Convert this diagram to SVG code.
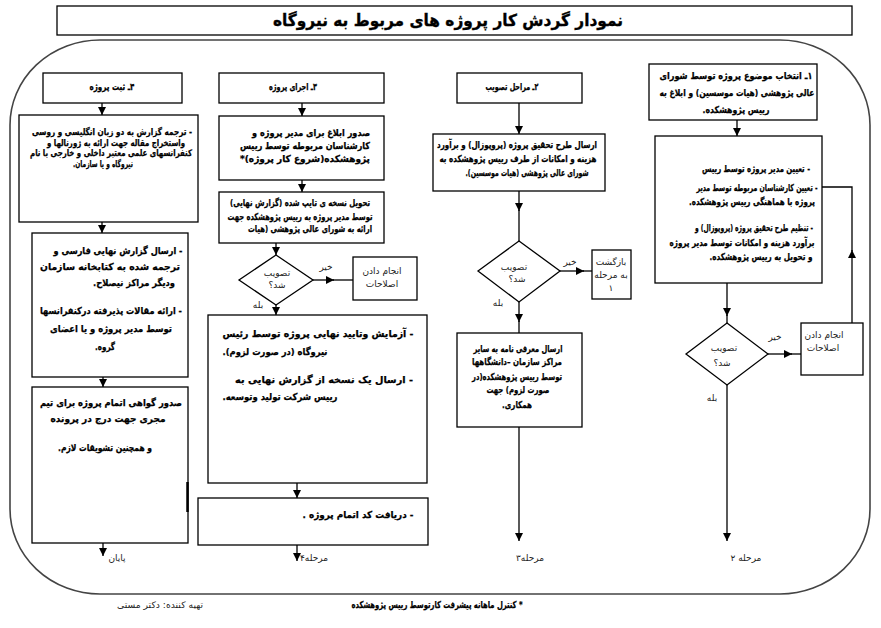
<svg xmlns="http://www.w3.org/2000/svg" width="881" height="628" viewBox="0 0 881 628">
<style>
.box{fill:#fff;stroke:#000;stroke-width:1.3}
.ln{stroke:#000;stroke-width:1.3;fill:none}
.cont{fill:none;stroke:#444;stroke-width:1.6}
text{font-family:"DejaVu Sans","Noto Sans",sans-serif;font-size:9.5px;font-weight:bold;direction:rtl;text-anchor:middle;fill:#000;stroke:#000;stroke-width:0.25}
.n{font-weight:normal;fill:#222;font-size:9px;stroke:none}
.ttl{font-size:16.5px;stroke-width:0.35}
.sm{font-size:9px}
</style>
<defs>
<marker id="ah" markerUnits="userSpaceOnUse" markerWidth="8" markerHeight="8" refX="8" refY="4" orient="auto">
<path d="M0,0 L8,4 L0,8 z" fill="#000"/>
</marker>
</defs>
<rect width="881" height="628" fill="#fff"/>
<g id="title">
<rect x="57" y="6" width="795" height="29" fill="#fff" stroke="#000" stroke-width="1.3"/>
<text class="ttl" x="448" y="26" textLength="350" lengthAdjust="spacingAndGlyphs">نمودار گردش کار پروژه های مربوط به نیروگاه</text>
</g>
<path id="container" class="cont" d="M100,40 H780 A90,85 0 0 1 870,125 V509 A90,85 0 0 1 780,594 H100 A90,85 0 0 1 10,509 V125 A90,85 0 0 1 100,40 Z"/>
<g id="connectors">
<line class="ln" x1="737" y1="120" x2="737" y2="136" marker-end="url(#ah)"/>
<line class="ln" x1="727" y1="283" x2="727" y2="316" marker-end="url(#ah)"/>
<line class="ln" x1="727" y1="315" x2="727" y2="323"/>
<line class="ln" x1="852" y1="323" x2="852" y2="250" marker-end="url(#ah)"/>
<polyline class="ln" points="852,251 852,187 822,187"/>
<line class="ln" x1="768" y1="354" x2="792" y2="354" marker-end="url(#ah)"/>
<line class="ln" x1="791" y1="354" x2="801" y2="354"/>
<line class="ln" x1="727" y1="385" x2="727" y2="541" marker-end="url(#ah)"/>
<line class="ln" x1="519" y1="103" x2="519" y2="134" marker-end="url(#ah)"/>
<line class="ln" x1="519" y1="191" x2="519" y2="211" marker-end="url(#ah)"/>
<line class="ln" x1="519" y1="210" x2="519" y2="241"/>
<line class="ln" x1="560" y1="271" x2="584" y2="271" marker-end="url(#ah)"/>
<line class="ln" x1="583" y1="271" x2="592" y2="271"/>
<line class="ln" x1="519" y1="302" x2="519" y2="322" marker-end="url(#ah)"/>
<line class="ln" x1="519" y1="321" x2="519" y2="333"/>
<line class="ln" x1="519" y1="427" x2="519" y2="541" marker-end="url(#ah)"/>
<line class="ln" x1="302" y1="103" x2="302" y2="116" marker-end="url(#ah)"/>
<line class="ln" x1="302" y1="180" x2="302" y2="192" marker-end="url(#ah)"/>
<line class="ln" x1="276" y1="243" x2="276" y2="255" marker-end="url(#ah)"/>
<line class="ln" x1="313" y1="280" x2="334" y2="280" marker-end="url(#ah)"/>
<line class="ln" x1="333" y1="280" x2="353" y2="280"/>
<line class="ln" x1="276" y1="305" x2="276" y2="315" marker-end="url(#ah)"/>
<line class="ln" x1="297" y1="483" x2="297" y2="498" marker-end="url(#ah)"/>
<line class="ln" x1="297" y1="545" x2="297" y2="561" marker-end="url(#ah)"/>
<line class="ln" x1="102" y1="103" x2="102" y2="115" marker-end="url(#ah)"/>
<line class="ln" x1="102" y1="222" x2="102" y2="233" marker-end="url(#ah)"/>
<line class="ln" x1="103" y1="377" x2="103" y2="387" marker-end="url(#ah)"/>
<line class="ln" x1="103" y1="543" x2="103" y2="556" marker-end="url(#ah)"/>
</g>
<g id="s1-head">
<rect class="box" x="649" y="64" width="168" height="56"/>
<text x="736" y="79" textLength="153" lengthAdjust="spacingAndGlyphs">۱ـ انتخاب موضوع پروژه  توسط شورای</text>
<text x="737" y="96" textLength="155" lengthAdjust="spacingAndGlyphs">عالی پژوهشی (هیات موسسین) و ابلاغ به</text>
<text x="736" y="113" textLength="67" lengthAdjust="spacingAndGlyphs">رییس پژوهشکده.</text>
</g>
<g id="s1-assign">
<rect class="box" x="655" y="136" width="167" height="147"/>
<text x="756" y="172" textLength="108" lengthAdjust="spacingAndGlyphs">- تعیین مدیر پروژه  توسط رییس</text>
<text x="757" y="191" textLength="121" lengthAdjust="spacingAndGlyphs">- تعیین کارشناسان مربوطه توسط مدیر</text>
<text x="752" y="205" textLength="126" lengthAdjust="spacingAndGlyphs">پروژه با هماهنگی رییس پژوهشکده.</text>
<text x="754" y="231" textLength="118" lengthAdjust="spacingAndGlyphs">- تنظیم طرح تحقیق پروژه (پروپوزال) و</text>
<text x="742" y="246" textLength="145" lengthAdjust="spacingAndGlyphs">برآورد هزینه و امکانات توسط مدیر پروژه</text>
<text x="761" y="260" textLength="103" lengthAdjust="spacingAndGlyphs">و تحویل به رییس پژوهشکده.</text>
</g>
<g id="s1-decision">
<polygon class="box" points="727,323 768,354 727,385 686,354"/>
<text class="n" x="724" y="351">تصویب</text>
<text class="n" x="722" y="366">شد؟</text>
<text class="n" x="775" y="340">خیر</text>
<text class="n" x="712" y="401">بله</text>
</g>
<g id="s1-fix">
<rect class="box" x="801" y="323" width="62" height="52"/>
<text class="n" x="824" y="338">انجام دادن</text>
<text class="n" x="823" y="351">اصلاحات</text>
</g>
<g id="s1-end"><text class="n" x="746" y="561">مرحله ۲</text></g>
<g id="s2-head">
<rect class="box" x="457" y="73" width="125" height="30"/>
<text x="512" y="90" textLength="53" lengthAdjust="spacingAndGlyphs">۲ـ مراحل تصویب</text>
</g>
<g id="s2-send">
<rect class="box" x="433" y="134" width="172" height="57"/>
<text x="517" y="148" textLength="160" lengthAdjust="spacingAndGlyphs">ارسال طرح تحقیق پروژه (پروپوزال) و برآورد</text>
<text x="518" y="162" textLength="157" lengthAdjust="spacingAndGlyphs">هزینه و امکانات از طرف رییس پژوهشکده به</text>
<text x="527" y="176" textLength="123" lengthAdjust="spacingAndGlyphs">شورای عالی پژوهشی (هیات موسسین).</text>
</g>
<g id="s2-decision">
<polygon class="box" points="519,241 560,271 519,302 478,271"/>
<text class="n" x="514" y="270">تصویب</text>
<text class="n" x="517" y="282">شد؟</text>
<text class="n" x="570" y="265">خیر</text>
<text class="n" x="498" y="306">بله</text>
</g>
<g id="s2-back">
<rect class="box" x="592" y="250" width="39" height="49"/>
<text class="n" x="611" y="265">بازگشت</text>
<text class="n" x="611" y="278">به مرحله</text>
<text class="n" x="611" y="291">۱</text>
</g>
<g id="s2-intro">
<rect class="box" x="457" y="333" width="125" height="94"/>
<text x="518" y="352" textLength="89" lengthAdjust="spacingAndGlyphs">ارسال معرفی نامه به سایر</text>
<text x="517" y="365" textLength="90" lengthAdjust="spacingAndGlyphs">مراکز سازمان  –دانشگاهها</text>
<text x="517" y="380" textLength="90" lengthAdjust="spacingAndGlyphs">توسط رییس پژوهشکده(در</text>
<text x="518" y="393" textLength="63" lengthAdjust="spacingAndGlyphs">صورت لزوم) جهت</text>
<text x="517" y="408" textLength="30" lengthAdjust="spacingAndGlyphs">همکاری.</text>
</g>
<g id="s2-end"><text class="n" x="530" y="561">مرحله۳</text></g>
<g id="s3-head">
<rect class="box" x="219" y="73" width="165" height="30"/>
<text x="293" y="90" textLength="48" lengthAdjust="spacingAndGlyphs">۳ـ اجرای پروژه</text>
</g>
<g id="s3-notice">
<rect class="box" x="219" y="116" width="165" height="64"/>
<text x="311" y="136" textLength="118" lengthAdjust="spacingAndGlyphs">صدور ابلاغ برای مدیر پروژه و</text>
<text x="305" y="149" textLength="130" lengthAdjust="spacingAndGlyphs">کارشناسان مربوطه توسط رییس</text>
<text x="305" y="162" textLength="130" lengthAdjust="spacingAndGlyphs">پژوهشکده(شروع کار پروژه)*</text>
</g>
<g id="s3-deliver">
<rect class="box" x="219" y="192" width="165" height="51"/>
<text x="300" y="206" textLength="140" lengthAdjust="spacingAndGlyphs">تحویل نسخه ی  تایپ شده (گزارش نهایی)</text>
<text x="300" y="220" textLength="145" lengthAdjust="spacingAndGlyphs">توسط مدیر پروژه به رییس پژوهشکده جهت</text>
<text x="310" y="232" textLength="124" lengthAdjust="spacingAndGlyphs">ارائه به شورای عالی پژوهشی (هیات</text>
</g>
<g id="s3-decision">
<polygon class="box" points="276,255 313,280 276,305 239,280"/>
<text class="n" x="277" y="276">تصویب</text>
<text class="n" x="277" y="288">شد؟</text>
<text class="n" x="326" y="270">خیر</text>
<text class="n" x="258" y="308">بله</text>
</g>
<g id="s3-fix">
<rect class="box" x="353" y="257" width="64" height="43"/>
<text class="n" x="382" y="274">انجام دادن</text>
<text class="n" x="382" y="287">اصلاحات</text>
</g>
<g id="s3-test">
<rect class="box" x="208" y="315" width="219" height="168"/>
<text x="318" y="337" textLength="191" lengthAdjust="spacingAndGlyphs">- آزمایش وتایید نهایی پروژه توسط رئیس</text>
<text x="275" y="355" textLength="105" lengthAdjust="spacingAndGlyphs">نیروگاه (در صورت لزوم).</text>
<text x="324" y="383" textLength="178" lengthAdjust="spacingAndGlyphs">- ارسال یک نسخه از گزارش نهایی به</text>
<text x="280" y="400" textLength="115" lengthAdjust="spacingAndGlyphs">رییس شرکت تولید وتوسعه.</text>
</g>
<g id="s3-code">
<rect class="box" x="198" y="498" width="230" height="47"/>
<text x="358" y="518" textLength="111" lengthAdjust="spacingAndGlyphs">- دریافت کد اتمام پروژه .</text>
</g>
<g id="s3-end"><text class="n" x="314" y="561">مرحله۴</text></g>
<g id="s4-head">
<rect class="box" x="43" y="73" width="139" height="30"/>
<text x="112" y="90" textLength="45" lengthAdjust="spacingAndGlyphs">۴ـ ثبت پروژه</text>
</g>
<g id="s4-translate">
<rect class="box" x="19" y="115" width="179" height="107"/>
<text class="sm" x="112" y="135" textLength="160" lengthAdjust="spacingAndGlyphs">- ترجمه  گزارش به دو زبان انگلیسی و روسی</text>
<text class="sm" x="116" y="145.5" textLength="138" lengthAdjust="spacingAndGlyphs">واستخراج مقاله جهت ارائه به ژورنالها و</text>
<text class="sm" x="111" y="156" textLength="162" lengthAdjust="spacingAndGlyphs">کنفرانسهای علمی معتبر داخلی و خارجی با نام</text>
<text class="sm" x="103" y="166.5" textLength="60" lengthAdjust="spacingAndGlyphs">نیروگاه و یا سازمان.</text>
</g>
<g id="s4-send">
<rect class="box" x="32" y="233" width="156" height="144"/>
<text x="118" y="254" textLength="129" lengthAdjust="spacingAndGlyphs">- ارسال گزارش نهایی فارسی و</text>
<text x="110" y="270" textLength="140" lengthAdjust="spacingAndGlyphs">ترجمه شده به کتابخانه  سازمان</text>
<text x="134" y="286" textLength="82" lengthAdjust="spacingAndGlyphs">ودیگر مراکز نیصلاح.</text>
<text x="111" y="314" textLength="142" lengthAdjust="spacingAndGlyphs">- ارائه مقالات پذیرفته درکنفرانسها</text>
<text x="111" y="332" textLength="122" lengthAdjust="spacingAndGlyphs">توسط مدیر پروژه و یا اعضای</text>
<text x="105" y="350" textLength="20" lengthAdjust="spacingAndGlyphs">گروه.</text>
</g>
<g id="s4-cert">
<rect class="box" x="32" y="387" width="156" height="156"/>
<line x1="187.5" y1="482" x2="187.5" y2="512" stroke="#000" stroke-width="2.5"/>
<text x="111" y="406" textLength="142" lengthAdjust="spacingAndGlyphs">صدور گواهی اتمام پروژه برای تیم</text>
<text x="108" y="422" textLength="115" lengthAdjust="spacingAndGlyphs">مجری جهت درج در پرونده</text>
<text x="105" y="451" textLength="94" lengthAdjust="spacingAndGlyphs">و  همچنین تشویقات لازم.</text>
</g>
<g id="s4-end"><text class="n" x="117" y="561">پایان</text></g>
<g id="footer">
<text class="n" x="160" y="608" textLength="86" lengthAdjust="spacingAndGlyphs">تهیه کننده: دکتر مستی</text>
<text x="437" y="608" textLength="171" lengthAdjust="spacingAndGlyphs">* کنترل ماهانه پیشرفت کارتوسط رییس پژوهشکده</text>
</g>
</svg>
